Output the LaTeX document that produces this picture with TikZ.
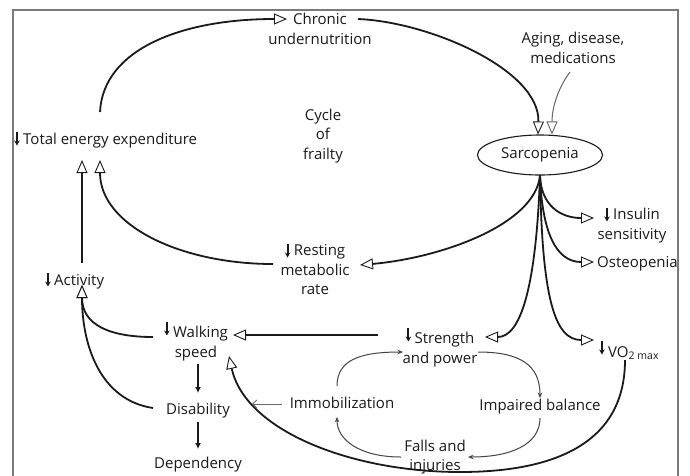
\documentclass[tikz,border=0pt]{standalone}
\usepackage{fontspec}
\setmainfont{Open Sans}
\usetikzlibrary{arrows.meta,shapes.geometric}
\definecolor{ink}{HTML}{1A1A1A}
\definecolor{framecol}{HTML}{7A7A7A}
\definecolor{thincol}{HTML}{444444}
\definecolor{graycol}{HTML}{666666}
\newcommand{\dn}[1][0]{\tikz[baseline=0pt]\draw[ink,line width=2pt,-{Stealth[length=5pt,width=5.5pt]}] (0pt,{12pt+#1pt}) -- (0pt,{-1.5pt+#1pt});\hspace{3.5pt}}
\begin{document}
\begin{tikzpicture}[x=1pt,y=-1pt,
  txt/.style={font=\fontsize{15}{19.5}\selectfont, text=ink, inner sep=0pt},
  mtxt/.style={txt, align=center},
  thickline/.style={ink, line width=1.8pt},
  bigarrow/.style={-{Triangle[fill=white,length=13pt,width=11pt,line width=0.9pt]}},
  grayline/.style={graycol, line width=1pt},
  cycline/.style={thincol, line width=1pt, -{Stealth[length=5.5pt,width=4.5pt]}},
  solidarrow/.style={ink, line width=1.6pt, -{Latex[length=6pt,width=6pt]}}
]
\useasboundingbox (0,0) rectangle (690,475);
\fill[white] (0,0) rectangle (690,475);
\draw[framecol, line width=1.2pt] (13,478) -- (13,10) -- (678,10) -- (678,478);

% nodes
\node[txt,anchor=base west] (tee) at (14,144) {\dn Total energy expenditure};
\node[mtxt] (chronic) at (320,29) {Chronic\\undernutrition};
\node[mtxt] (cycle) at (323,136) {Cycle\\of\\frailty};
\node[mtxt] (aging) at (573,48) {Aging, disease,\\medications};
\node[txt, draw=ink, line width=1.1pt, ellipse, minimum width=125pt, minimum height=40pt] (sarc) at (540,155) {Sarcopenia};
\node[mtxt] (rmr) at (315,269) {\dn Resting\\metabolic\\rate};
\node[mtxt] (ins) at (632,225) {\dn Insulin\\sensitivity};
\node[txt,anchor=base west] (osteo) at (597,267) {Osteopenia};
\node[txt,anchor=base west] (vo2) at (599,357) {\dn[4]VO\textsubscript{2 max}};
\node[mtxt] (str) at (440,347) {\dn[4]Strength\\and power};
\node[mtxt] (walk) at (196,341) {\dn[4]Walking\\speed};
\node[txt,anchor=base west] (act) at (45,285) {\dn Activity};
\node[txt,anchor=base] (dis) at (198,414) {Disability};
\node[txt,anchor=base] (dep) at (198,468) {Dependency};
\node[txt,anchor=base] (immob) at (342,408) {Immobilization};
\node[txt,anchor=base] (bal) at (540,410) {Impaired balance};
\node[mtxt] (falls) at (435,457) {Falls and\\injuries};

% ports
\coordinate (tee-up) at (100,112);
\coordinate (tee-in1) at (82,160);
\coordinate (tee-in2) at (100,160);
\coordinate (chron-in) at (287,19);
\coordinate (chron-out) at (358,19);
\coordinate (aging-out) at (570,72);
\coordinate (sarc-in1) at ([xshift=-2pt]sarc.north);
\coordinate (sarc-in2) at ([xshift=12pt]sarc.north);
\coordinate (rmr-in) at (360,265);
\coordinate (rmr-out) at (273,264);
\coordinate (act-up) at (82,263);
\coordinate (act-in) at (82,285);
\coordinate (walk-outl) at (153,337);
\coordinate (dis-outl) at (153,408);
\coordinate (str-in) at (485,337);
\coordinate (str-outl) at (378,335);
\coordinate (walk-in) at (233,335);
\coordinate (ins-in) at (594,218);
\coordinate (osteo-in) at (594,262);
\coordinate (vo2-in) at (594,340);
\coordinate (vo2-out) at (625,360);
\coordinate (walk-in2) at (229,356);
\coordinate (loop-bottom) at (460,472);
\coordinate (walk-down) at (198,364);
\coordinate (dis-in) at (198,393);
\coordinate (dis-down) at (198,422);
\coordinate (dep-in) at (198,449);
\coordinate (immob-out) at (282,404);
\coordinate (dis-in2) at (252,404);
\coordinate (immob-up) at (337,386);
\coordinate (str-in2) at (403,352);
\coordinate (str-out2) at (478,352);
\coordinate (bal-in) at (540,398);
\coordinate (bal-out) at (540,418);
\coordinate (falls-in) at (468,457);
\coordinate (falls-out) at (401,457);
\coordinate (immob-in) at (337,417);

% outer cycle
\draw[thickline,bigarrow] (tee-up) .. controls (103,50) and (180,19) .. (chron-in);
\draw[thickline,bigarrow] (chron-out) .. controls (430,22) and (540,70) .. (sarc-in1);
\draw[grayline,bigarrow] (aging-out) .. controls (560,85) and (552,105) .. (sarc-in2);

% fan from sarcopenia
\draw[thickline,bigarrow] (sarc.south) .. controls (541,205) and (560,218) .. (ins-in);
\draw[thickline,bigarrow] (sarc.south) .. controls (542,230) and (555,262) .. (osteo-in);
\draw[thickline,bigarrow] (sarc.south) .. controls (542,300) and (555,340) .. (vo2-in);
\draw[thickline,bigarrow] (sarc.south) .. controls (536,290) and (520,337) .. (str-in);
\draw[thickline,bigarrow] (sarc.south) .. controls (535,225) and (440,258) .. (rmr-in);

% back to energy expenditure
\draw[thickline,bigarrow] (rmr-out) .. controls (180,264) and (100,225) .. (tee-in2);
\draw[thickline,bigarrow] (act-up) -- (tee-in1);
\draw[thickline,bigarrow] (walk-outl) .. controls (110,337) and (82,325) .. (act-in);
\draw[thickline,bigarrow] (dis-outl) .. controls (100,400) and (82,345) .. (act-in);
\draw[thickline,bigarrow] (str-outl) -- (walk-in);
\draw[thickline,bigarrow] (vo2-out) .. controls (625,440) and (560,472) .. (loop-bottom) .. controls (350,472) and (245,430) .. (walk-in2);

% lower chain
\draw[solidarrow] (walk-down) -- (dis-in);
\draw[solidarrow] (dis-down) -- (dep-in);
\draw[grayline,-{Straight Barb[length=4pt,width=8pt]}] (immob-out) -- (dis-in2);

% small cycle
\draw[cycline] (immob-up) .. controls (337,360) and (360,352) .. (str-in2);
\draw[cycline] (str-out2) .. controls (520,352) and (540,365) .. (bal-in);
\draw[cycline] (bal-out) .. controls (540,445) and (510,457) .. (falls-in);
\draw[cycline] (falls-out) .. controls (360,457) and (337,440) .. (immob-in);
\end{tikzpicture}
\end{document}
